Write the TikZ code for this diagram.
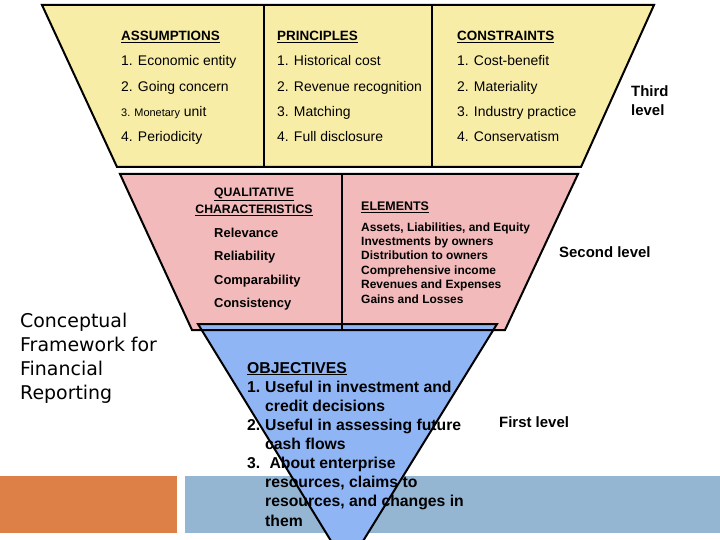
\documentclass[tikz,border=0pt]{standalone}
\usepackage{fontspec}
\setmainfont{Liberation Sans}
\newfontfamily\titlefont{DejaVu Sans}
\definecolor{lvlyellow}{HTML}{F8EDA6}
\definecolor{lvlpink}{HTML}{F2BABA}
\definecolor{lvlblue}{HTML}{8FB5F5}
\definecolor{barorange}{HTML}{DD8047}
\definecolor{bargrey}{HTML}{94B6D2}
\begin{document}
\begin{tikzpicture}[x=1bp,y=-1bp,
  edge/.style={line width=2bp,draw=black,line join=miter},
  hdr/.style={anchor=base west,inner sep=0pt,font=\bfseries\fontsize{13.5}{16}\selectfont},
  item/.style={anchor=base west,inner sep=0pt,font=\fontsize{14}{16}\selectfont},
  qual/.style={anchor=base west,inner sep=0pt,font=\bfseries\fontsize{13}{15}\selectfont},
  lvl/.style={anchor=base west,inner sep=0pt,align=left,font=\bfseries\fontsize{15}{19}\selectfont}]
\useasboundingbox (0,0) rectangle (720,540);

\fill[barorange] (0,476) rectangle (177,533);
\fill[bargrey] (185,476) rectangle (720,533);

\filldraw[fill=lvlyellow,edge] (42,5) -- (654,5) -- (581,167) -- (117,167) -- cycle;
\draw[edge] (264,5) -- (264,167);
\draw[edge] (432,5) -- (432,167);

\node[hdr] (assum) at (121,41) {\underline{ASSUMPTIONS}};
\node[item] (assum1) at (121,66) {1. Economic entity};
\node[item] (assum2) at (121,92) {2. Going concern};
\node[item] (assum3) at (121,117) {{\fontsize{11}{13}\selectfont 3. Monetary} unit};
\node[item] (assum4) at (121,142) {4. Periodicity};

\node[hdr] (princ) at (277,41) {\underline{PRINCIPLES}};
\node[item] (princ1) at (277,66) {1. Historical cost};
\node[item] (princ2) at (277,92) {2. Revenue recognition};
\node[item] (princ3) at (277,117) {3. Matching};
\node[item] (princ4) at (277,142) {4. Full disclosure};

\node[hdr] (constr) at (457,41) {\underline{CONSTRAINTS}};
\node[item] (constr1) at (457,66) {1. Cost-benefit};
\node[item] (constr2) at (457,92) {2. Materiality};
\node[item] (constr3) at (457,117) {3. Industry practice};
\node[item] (constr4) at (457,142) {4. Conservatism};

\node[lvl] (third) at (631,115.5) {Third\\level};

\fill[lvlpink] (120,174) -- (578,174) -- (505,330) -- (192,330) -- cycle;
\filldraw[fill=lvlblue,edge] (198,324) -- (497,324) -- (347,567) -- cycle;
\draw[edge] (120,174) -- (578,174) -- (505,330) -- (192,330) -- cycle;
\draw[edge] (342,174) -- (342,330);

\node[anchor=base,inner sep=0pt,align=center,font=\bfseries\fontsize{12.3}{17}\selectfont]
  (qualhdr) at (254,213.5) {\underline{QUALITATIVE}\\\underline{CHARACTERISTICS}};
\node[qual] (qual1) at (214,237.5) {Relevance};
\node[qual] (qual2) at (214,260.5) {Reliability};
\node[qual] (qual3) at (214,284.5) {Comparability};
\node[qual] (qual4) at (214,307.5) {Consistency};

\node[qual,font=\bfseries\fontsize{12.5}{15}\selectfont] (elem) at (361,210.5) {\underline{ELEMENTS}};
\node[anchor=base west,inner sep=0pt,align=left,font=\bfseries\fontsize{12}{14.4}\selectfont]
  (elemlist) at (361,303) {Assets, Liabilities, and Equity\\Investments by owners\\Distribution to owners\\Comprehensive income\\Revenues and Expenses\\Gains and Losses};
\node[lvl] (second) at (559,258) {Second level};

\node[anchor=base west,inner sep=0pt,align=left,font=\bfseries\fontsize{15.8}{19.2}\selectfont]
  (obj) at (247,526.1) {\underline{OBJECTIVES}\\
  \makebox[18bp][l]{1.}Useful in investment and\\
  \hspace*{18bp}credit decisions\\
  \makebox[18bp][l]{2.}Useful in assessing future\\
  \hspace*{18bp}cash flows\\
  \makebox[18bp][l]{3.}\ About enterprise\\
  \hspace*{18bp}resources, claims to\\
  \hspace*{18bp}resources, and changes in\\
  \hspace*{18bp}them};
\node[lvl] (first) at (499,427) {First level};

\node[anchor=base west,inner sep=0pt,align=left,font=\titlefont\fontsize{19}{24}\selectfont]
  (title) at (20,399) {Conceptual\\Framework for\\Financial\\Reporting};
\end{tikzpicture}
\end{document}
